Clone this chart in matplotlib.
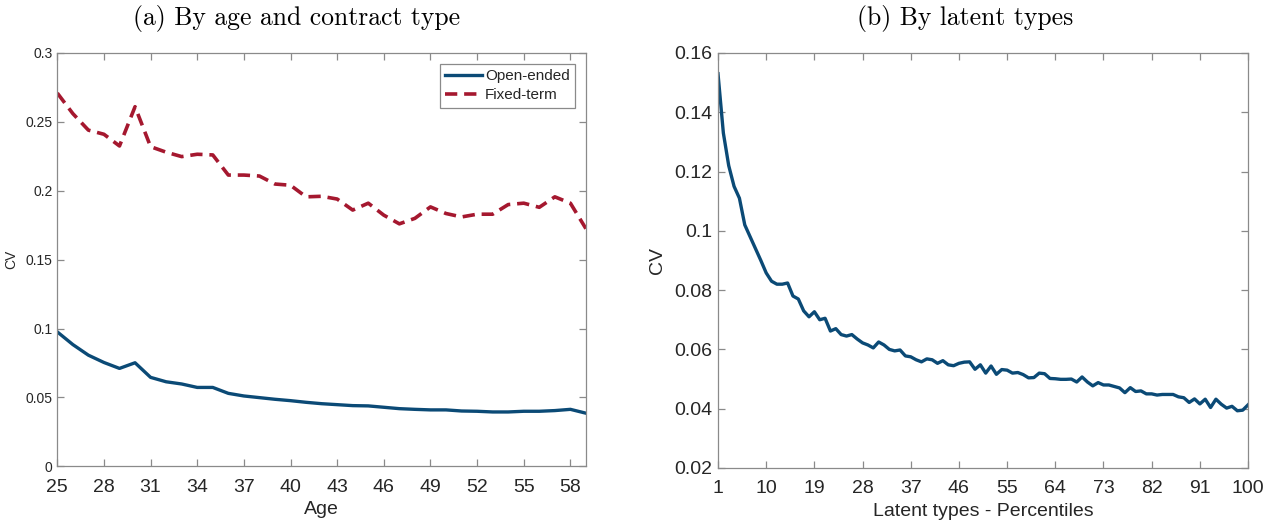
import matplotlib

matplotlib.use("Agg")
import matplotlib.pyplot as plt  # noqa: E402

BLUE = "#0b4a76"
RED = "#a5182f"
AX_GRAY = "#8a8a8a"
TXT = "#262626"

# Panel (a): CV by age and contract type
ages = list(range(25, 60))
open_ended = [0.0976, 0.0884, 0.0807, 0.0754, 0.0711, 0.0752, 0.0646, 0.0614, 0.0598, 0.0573,
              0.0573, 0.0530, 0.0511, 0.0499, 0.0487, 0.0477, 0.0465, 0.0455, 0.0448, 0.0441,
              0.0439, 0.0429, 0.0419, 0.0414, 0.0410, 0.0410, 0.0402, 0.0400, 0.0395, 0.0395,
              0.0400, 0.0400, 0.0405, 0.0414, 0.0386]
fixed_term = [0.2709, 0.2560, 0.2440, 0.2410, 0.2325, 0.2610, 0.2320, 0.2280, 0.2248, 0.2265,
              0.2260, 0.2114, 0.2114, 0.2107, 0.2049, 0.2040, 0.1956, 0.1960, 0.1940, 0.1860,
              0.1910, 0.1823, 0.1760, 0.1800, 0.1883, 0.1835, 0.1810, 0.1830, 0.1830, 0.1900,
              0.1910, 0.1880, 0.1956, 0.1910, 0.1725]
age_ticks = list(range(25, 59, 3))
cv_ticks_a = [0, 0.05, 0.1, 0.15, 0.2, 0.25, 0.3]
cv_labels_a = ["0", "0.05", "0.1", "0.15", "0.2", "0.25", "0.3"]

# Panel (b): CV by latent-type percentile
percentiles = list(range(1, 101))
cv_latent = [0.1530, 0.1330, 0.1220, 0.1150, 0.1110, 0.1020, 0.0980, 0.0940, 0.0900, 0.0858,
             0.0830, 0.0820, 0.0820, 0.0824, 0.0780, 0.0770, 0.0730, 0.0710, 0.0727, 0.0700,
             0.0705, 0.0662, 0.0670, 0.0650, 0.0645, 0.0650, 0.0635, 0.0622, 0.0615, 0.0605,
             0.0625, 0.0615, 0.0600, 0.0595, 0.0598, 0.0578, 0.0575, 0.0565, 0.0558, 0.0568,
             0.0565, 0.0553, 0.0562, 0.0548, 0.0545, 0.0553, 0.0557, 0.0558, 0.0533, 0.0548,
             0.0520, 0.0544, 0.0516, 0.0532, 0.0530, 0.0520, 0.0522, 0.0515, 0.0504, 0.0505,
             0.0520, 0.0518, 0.0502, 0.0501, 0.0499, 0.0499, 0.0500, 0.0490, 0.0507, 0.0490,
             0.0477, 0.0488, 0.0480, 0.0480, 0.0475, 0.0470, 0.0454, 0.0471, 0.0458, 0.0460,
             0.0450, 0.0450, 0.0446, 0.0448, 0.0448, 0.0448, 0.0440, 0.0437, 0.0421, 0.0433,
             0.0416, 0.0432, 0.0404, 0.0432, 0.0415, 0.0402, 0.0408, 0.0393, 0.0395, 0.0413]
pct_ticks = list(range(1, 101, 9))
cv_ticks_b = [0.02, 0.04, 0.06, 0.08, 0.1, 0.12, 0.14, 0.16]
cv_labels_b = ["0.02", "0.04", "0.06", "0.08", "0.1", "0.12", "0.14", "0.16"]

plt.rcParams["font.family"] = ["Liberation Sans", "DejaVu Sans"]


def style_axes(ax, tick_size):
    for s in ax.spines.values():
        s.set_color(AX_GRAY)
        s.set_linewidth(0.9)
    ax.tick_params(direction="in", top=True, right=True, length=5, width=0.9,
                   color=AX_GRAY, labelcolor=TXT, labelsize=tick_size, pad=4)
    ax.tick_params(axis="x", pad=9)


fig = plt.figure(figsize=(12.76, 5.27), dpi=100)

ax1 = fig.add_axes([0.0449, 0.115, 0.4143, 0.7845])
ax1.plot(ages, open_ended, color=BLUE, lw=2.4, label="Open-ended")
ax1.plot(ages, fixed_term, color=RED, lw=2.6, ls=(0, (3.4, 1.9)), label="Fixed-term")
ax1.set_xlim(25, 59)
ax1.set_ylim(0, 0.3)
ax1.set_xticks(age_ticks)
ax1.set_yticks(cv_ticks_a, cv_labels_a)
style_axes(ax1, 10)
ax1.tick_params(axis="x", labelsize=14)
ax1.tick_params(axis="y", pad=3.5)
ax1.set_xlabel("Age", fontsize=14, color=TXT, labelpad=4)
ax1.set_ylabel("CV", fontsize=10, color=TXT)
ax1.yaxis.set_label_coords(-0.074, 0.5)
leg = ax1.legend(loc="upper right", fontsize=11, fancybox=False, framealpha=1,
                 edgecolor=AX_GRAY, handlelength=2.4, borderaxespad=0.7,
                 handletextpad=0.2, borderpad=0.35, labelspacing=0.35)
leg.get_frame().set_linewidth(0.9)
for t in leg.get_texts():
    t.set_color(TXT)

ax2 = fig.add_axes([0.5627, 0.112, 0.4154, 0.7875])
ax2.plot(percentiles, cv_latent, color=BLUE, lw=2.4)
ax2.set_xlim(1, 100)
ax2.set_ylim(0.02, 0.16)
ax2.set_xticks(pct_ticks)
ax2.set_yticks(cv_ticks_b, cv_labels_b)
style_axes(ax2, 14)
ax2.set_xlabel("Latent types - Percentiles", fontsize=14, color=TXT, labelpad=4)
ax2.set_ylabel("CV", fontsize=14, color=TXT, labelpad=6)

# subcaptions are centred on each half of the page, not on the axes
fig.text(297 / 1276, 1 - 18 / 527, "(a) By age and contract type", fontfamily="cmr10",
         fontsize=18.5, ha="center", va="center")
fig.text(965 / 1276, 1 - 18 / 527, "(b) By latent types", fontfamily="cmr10",
         fontsize=18.5, ha="center", va="center")

fig.savefig("out.png", dpi=100)
